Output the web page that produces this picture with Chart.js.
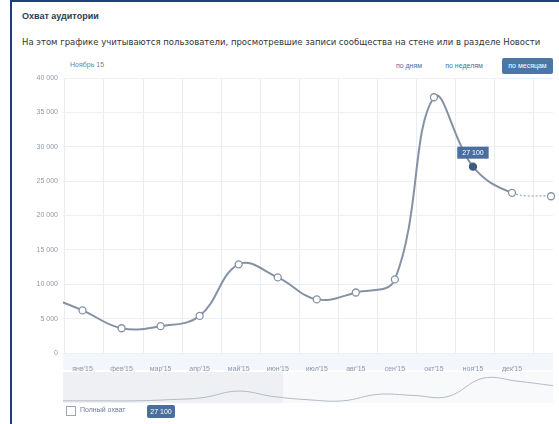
<!DOCTYPE html>
<html>
<head>
<meta charset="utf-8">
<script src="https://cdn.jsdelivr.net/npm/chart.js@4"></script>
<style>
  body { margin: 0; width: 559px; height: 424px; overflow: hidden; background: #fff; font-family: "Liberation Sans", Arial, sans-serif; }
  #frame { position: absolute; left: 10px; top: 0; width: 549px; height: 424px; border-left: 2px solid #1f3d7a; border-top: 2px solid #1f3d7a; box-sizing: border-box; }
  .abs { position: absolute; white-space: nowrap; }
  #title { left: 22px; top: 11px; font-size: 9px; font-weight: bold; color: #2b3b55; }
  #subtitle { left: 22px; top: 37px; font-family: "DejaVu Sans", sans-serif; font-size: 8.5px; color: #333; }
  #period { left: 70px; top: 61px; font-size: 7px; color: #6d7f99; }
  .btn { top: 58px; height: 16px; line-height: 16px; font-size: 7px; color: #4a6f9c; text-align: center; }
  #b3 { background: #4a76a8; color: #fff; border-radius: 2px; }
  #mainChart { position: absolute; left: 12px; top: 55px; }
  #navChart { position: absolute; left: 63px; top: 372px; background: linear-gradient(to right, #eef0f3 0, #eef0f3 220px, #f8f9fa 220px); }
  #check { left: 66px; top: 406px; width: 8px; height: 8px; border: 1px solid #9aa6b6; }
  #full { left: 80px; top: 406px; font-size: 7px; color: #6a7a90; }
  #badge { left: 147px; top: 405px; width: 28px; height: 13px; line-height: 13px; background: #4a6e9f; color: #fff; font-size: 7px; text-align: center; border-radius: 2px; }
</style>
</head>
<body>
<div id="frame"></div>
<div class="abs" id="title">Охват аудитории</div>
<div class="abs" id="subtitle">На этом графике учитываются пользователи, просмотревшие записи сообщества на стене или в разделе Новости</div>
<div class="abs" id="period">Ноябрь 15</div>
<div class="abs btn" style="left:390px;width:38px">по дням</div>
<div class="abs btn" style="left:438px;width:52px">по неделям</div>
<div class="abs btn" id="b3" style="left:502px;width:51px">по месяцам</div>
<canvas id="mainChart" width="547" height="320"></canvas>
<canvas id="navChart" width="490" height="31"></canvas>
<div class="abs" id="check"></div>
<div class="abs" id="full">Полный охват</div>
<div class="abs" id="badge">27 100</div>
<script>
// --- data ---
const months = ["янв'15", "фев'15", "мар'15", "апр'15", "май'15", "июн'15", "июл'15", "авг'15", "сен'15", "окт'15", "ноя'15", "дек'15"];
const reach = [6200, 3600, 3900, 5400, 12900, 11000, 7800, 8800, 10700, 37200, 27100, 23300, 22800]; // last one = current (partial) month
const prevReach = 8500; // dec'14, off the left edge
const yTicks = [0, 5000, 10000, 15000, 20000, 25000, 30000, 35000, 40000];
const overviewReach = [2800, 2800, 2800, 4200, 7000, 15400, 8400, 4200, 2800, 11200, 9800, 8400, 32000, 28000, 22400];
const hoverIndex = 10; // ноя'15

const fmt = v => String(v).replace(/\B(?=(\d{3})+(?!\d))/g, ' ');

const points = [{ x: -1, y: prevReach }].concat(reach.map((v, i) => ({ x: i, y: v })));
const lastIdx = points.length - 1;
const hoverPt = hoverIndex + 1;

const tickFont = { family: 'Liberation Sans', size: 7 };

// light band behind month labels + hover badge
const extras = {
    id: 'extras',
    beforeDraw(chart) {
        const { ctx, chartArea } = chart;
        ctx.save();
        ctx.fillStyle = '#f3f6fa';
        ctx.fillRect(chartArea.left, chartArea.bottom + 1, chartArea.right - chartArea.left, 16);
        ctx.restore();
    },
    afterDatasetsDraw(chart) {
        const { ctx } = chart;
        const el = chart.getDatasetMeta(0).data[hoverPt];
        const text = fmt(reach[hoverIndex]);
        ctx.save();
        ctx.font = '7px "Liberation Sans"';
        const w = ctx.measureText(text).width + 10;
        ctx.fillStyle = '#4a6e9f';
        ctx.fillRect(el.x - w / 2, el.y - 20, w, 12);
        ctx.fillStyle = '#fff';
        ctx.textAlign = 'center';
        ctx.textBaseline = 'middle';
        ctx.fillText(text, el.x, el.y - 14);
        ctx.restore();
    }
};

new Chart(document.getElementById('mainChart'), {
    type: 'line',
    data: {
        datasets: [{
            data: points,
            clip: { left: 0, top: 8, right: 6, bottom: 0 },
            borderColor: '#8592a4',
            borderWidth: 2,
            tension: 0.4,
            pointRadius: ctx => ctx.dataIndex === 0 ? 0 : 3.5,
            pointBackgroundColor: ctx => ctx.dataIndex === hoverPt ? '#3f5a80' : '#fff',
            pointBorderColor: ctx => ctx.dataIndex === hoverPt ? '#3f5a80' : '#8592a4',
            pointBorderWidth: 1.3,
            segment: {
                borderDash: ctx => ctx.p1DataIndex === lastIdx ? [2, 2] : undefined,
                borderWidth: ctx => ctx.p1DataIndex === lastIdx ? 1 : 2
            }
        }]
    },
    options: {
        responsive: false,
        devicePixelRatio: 1,
        animation: false,
        layout: { padding: { top: 23, right: 6 } },
        plugins: { legend: { display: false }, tooltip: { enabled: false } },
        scales: {
            x: {
                type: 'linear', min: -0.5, max: 12.05,
                afterBuildTicks: s => { s.ticks = months.map((m, i) => ({ value: i })); },
                afterFit: s => { s.height = 22; },
                ticks: { callback: v => months[v], color: '#8e99a8', font: tickFont, padding: 4, maxRotation: 0, autoSkip: false },
                grid: { display: false },
                border: { display: false }
            },
            x2: {
                type: 'linear', min: -0.5, max: 12.05, position: 'bottom',
                afterBuildTicks: s => { s.ticks = reach.map((v, i) => ({ value: i - 0.45 })); },
                afterFit: s => { s.height = 0; },
                ticks: { display: false },
                grid: { color: '#e9edf2', drawTicks: false },
                border: { display: false }
            },
            y: {
                min: 0, max: 40000,
                afterBuildTicks: s => { s.ticks = yTicks.map(v => ({ value: v })); },
                afterFit: s => { s.width = 51; },
                ticks: { callback: v => fmt(v), color: '#8e99a8', font: tickFont, padding: 5 },
                grid: { color: '#eceff3', drawTicks: false },
                border: { display: false }
            }
        }
    },
    plugins: [extras]
});

// --- overview strip under the chart ---
new Chart(document.getElementById('navChart'), {
    type: 'line',
    data: {
        labels: overviewReach.map((v, i) => i),
        datasets: [{ data: overviewReach, borderColor: '#b4bac3', borderWidth: 1, pointRadius: 0, tension: 0.4 }]
    },
    options: {
        responsive: false,
        devicePixelRatio: 1,
        animation: false,
        plugins: { legend: { display: false }, tooltip: { enabled: false } },
        scales: {
            x: { display: false },
            y: { display: false, min: 0, max: 40000 }
        }
    }
});
</script>
</body>
</html>
